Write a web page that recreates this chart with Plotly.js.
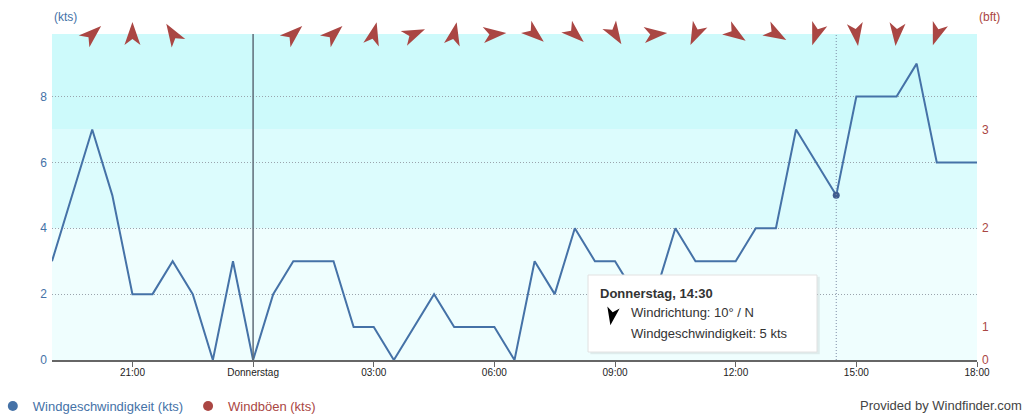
<!DOCTYPE html>
<html>
<head>
<meta charset="utf-8">
<script src="https://cdn.plot.ly/plotly-3.0.1.min.js"></script>
<style>
html,body{margin:0;padding:0;background:#ffffff;}
#chart{width:1035px;height:416px;}
</style>
</head>
<body>
<div id="chart"></div>
<script>
// ---- data ----
const times = [
  '2024-05-15 19:00','2024-05-15 19:30','2024-05-15 20:00','2024-05-15 20:30',
  '2024-05-15 21:00','2024-05-15 21:30','2024-05-15 22:00','2024-05-15 22:30',
  '2024-05-15 23:00','2024-05-15 23:30','2024-05-16 00:00','2024-05-16 00:30',
  '2024-05-16 01:00','2024-05-16 01:30','2024-05-16 02:00','2024-05-16 02:30',
  '2024-05-16 03:00','2024-05-16 03:30','2024-05-16 04:00','2024-05-16 04:30',
  '2024-05-16 05:00','2024-05-16 05:30','2024-05-16 06:00','2024-05-16 06:30',
  '2024-05-16 07:00','2024-05-16 07:30','2024-05-16 08:00','2024-05-16 08:30',
  '2024-05-16 09:00','2024-05-16 09:30','2024-05-16 10:00','2024-05-16 10:30',
  '2024-05-16 11:00','2024-05-16 11:30','2024-05-16 12:00','2024-05-16 12:30',
  '2024-05-16 13:00','2024-05-16 13:30','2024-05-16 14:00','2024-05-16 14:30',
  '2024-05-16 15:00','2024-05-16 15:30','2024-05-16 16:00','2024-05-16 16:30',
  '2024-05-16 17:00','2024-05-16 17:30','2024-05-16 18:00'
];
const windSpeed = [
  3,5,7,5, 2,2,3,2, 0,3,0,2, 3,3,3,1, 1,0,1,2, 1,1,1,0,
  3,2,4,3, 3,2,2,4, 3,3,3,4, 4,7,6,5, 8,8,8,9, 6,6,6
];
const dirTimes = [
  '2024-05-15 20:00','2024-05-15 21:00','2024-05-15 22:00',
  '2024-05-16 01:00','2024-05-16 02:00','2024-05-16 03:00','2024-05-16 04:00',
  '2024-05-16 05:00','2024-05-16 06:00','2024-05-16 07:00','2024-05-16 08:00',
  '2024-05-16 09:00','2024-05-16 10:00','2024-05-16 11:00','2024-05-16 12:00',
  '2024-05-16 13:00','2024-05-16 14:00','2024-05-16 15:00','2024-05-16 16:00',
  '2024-05-16 17:00'
];
// wind coming FROM (degrees)
const windDirection = [
  228,180,148, 228,228,194,247, 192,265,310,312, 328,265,25,304, 300,19,352,5, 19
];
const tickTimes = [
  '2024-05-15 21:00','2024-05-16 00:00','2024-05-16 03:00','2024-05-16 06:00',
  '2024-05-16 09:00','2024-05-16 12:00','2024-05-16 15:00','2024-05-16 18:00'
];
const tickLabels = ['21:00','Donnerstag','03:00','06:00','09:00','12:00','15:00','18:00'];
const ktsTicks = [0,2,4,6,8];
const bftTickKts = [0,1,4,7];
const bftTickLabels = ['0','1','2','3'];
const bftBandEdges = [0,4,7,9.9];
const dayStart = '2024-05-16 00:00';
const hoverIndex = 39;
const hoverDirection = 10;
const hoverDirName = 'N';
const hoverDay = 'Donnerstag';
const hoverTime = '14:30';

// ---- styling ----
const FONT = 'Liberation Sans, Arial, sans-serif';
const BLUE = '#4572A7';
const RED = '#AA4643';
const bandColors = ['#effefe','#dcfcfd','#cdfafb'];

function arrowPath(bearing, s) {
  const r = bearing * Math.PI / 180;
  const c = Math.cos(r), sn = Math.sin(r);
  const tpl = [[0,12],[8,-11],[0,-5],[-8,-11]];
  const pts = tpl.map(p => {
    const x = p[0]*s, y = p[1]*s;
    return [(x*c + y*sn).toFixed(2), (-x*sn + y*c).toFixed(2)];
  });
  return 'M' + pts.map(p => p[0] + ',' + p[1]).join(' L') + ' Z';
}

const shapes = [];
for (let i = 0; i < bandColors.length; i++) {
  shapes.push({type:'rect', xref:'paper', yref:'y', x0:0, x1:1,
    y0:bftBandEdges[i], y1:bftBandEdges[i+1], fillcolor:bandColors[i],
    line:{width:0}, layer:'below'});
}
shapes.push({type:'line', xref:'x', yref:'paper', x0:dayStart, x1:dayStart, y0:0, y1:1,
  line:{color:'#5f6c78', width:1.5}, layer:'above'});
shapes.push({type:'line', xref:'x', yref:'paper', x0:times[hoverIndex], x1:times[hoverIndex], y0:0, y1:1,
  line:{color:'#7d8ca6', width:1, dash:'1px,2px'}, layer:'above'});
for (let i = 0; i < dirTimes.length; i++) {
  shapes.push({type:'path', xref:'x', yref:'paper', xsizemode:'pixel', ysizemode:'pixel',
    xanchor:dirTimes[i], yanchor:1, path:arrowPath((windDirection[i]+180)%360, 1),
    fillcolor:RED, line:{width:0}, layer:'above'});
}
// tooltip box
shapes.push({type:'rect', xref:'paper', yref:'paper', x0:0.582, x1:0.830, y0:0.018, y1:0.255,
  fillcolor:'rgba(0,0,0,0.07)', line:{width:0}, layer:'above'});
shapes.push({type:'rect', xref:'paper', yref:'paper', x0:0.5795, x1:0.827, y0:0.0245, y1:0.2607,
  fillcolor:'#ffffff', line:{color:'#e2e2e2', width:1}, layer:'above'});
shapes.push({type:'path', xref:'paper', yref:'paper', xsizemode:'pixel', ysizemode:'pixel',
  xanchor:0.6054, yanchor:0.135, path:arrowPath((hoverDirection+180)%360, 0.78),
  fillcolor:'#000000', line:{width:0}, layer:'above'});

const annotations = [
  {xref:'paper', yref:'paper', x:0, y:1.052, xanchor:'left', yanchor:'middle', showarrow:false,
   text:'(kts)', font:{family:FONT, size:12, color:BLUE}},
  {xref:'paper', yref:'paper', x:1, y:1.052, xanchor:'left', yanchor:'middle', showarrow:false,
   text:'(bft)', font:{family:FONT, size:12, color:RED}},
  {xref:'paper', yref:'paper', x:1.0508, y:-0.141, xanchor:'right', yanchor:'middle', showarrow:false,
   text:'Provided by Windfinder.com', font:{family:FONT, size:13, color:'#444444'}},
  {xref:'paper', yref:'paper', x:0.590, y:0.2055, xanchor:'left', yanchor:'middle', showarrow:false,
   text:'<b>' + hoverDay + ', ' + hoverTime + '</b>', font:{family:FONT, size:13, color:'#333333'}},
  {xref:'paper', yref:'paper', x:0.6235, y:0.1442, xanchor:'left', yanchor:'middle', showarrow:false,
   text:'Windrichtung: ' + hoverDirection + '° / ' + hoverDirName, font:{family:FONT, size:13, color:'#333333'}},
  {xref:'paper', yref:'paper', x:0.6235, y:0.0798, xanchor:'left', yanchor:'middle', showarrow:false,
   text:'Windgeschwindigkeit: ' + windSpeed[hoverIndex] + ' kts', font:{family:FONT, size:13, color:'#333333'}}
];

const traces = [
  {x:times, y:windSpeed, type:'scatter', mode:'lines', line:{color:BLUE, width:2},
   showlegend:false, hoverinfo:'skip'},
  {x:[times[hoverIndex]], y:[windSpeed[hoverIndex]], type:'scatter', mode:'markers',
   marker:{color:'#3f5d8f', size:7}, showlegend:false, hoverinfo:'skip'},
  {x:[null], y:[null], type:'scatter', mode:'markers', marker:{color:BLUE, size:10},
   name:'<span style="color:' + BLUE + '">Windgeschwindigkeit (kts)</span>'},
  {x:[null], y:[null], type:'scatter', mode:'markers', marker:{color:RED, size:10}, yaxis:'y2',
   name:'<span style="color:' + RED + '">Windböen (kts)</span>'}
];

const layout = {
  width:1035, height:416,
  margin:{l:52, r:58, t:34, b:56, pad:0, autoexpand:false},
  paper_bgcolor:'#ffffff', plot_bgcolor:'#ffffff',
  font:{family:FONT, size:12, color:'#333333'},
  hovermode:false,
  xaxis:{type:'date', range:[times[0], times[times.length-1]], automargin:false,
    tickvals:tickTimes, ticktext:tickLabels, tickfont:{family:FONT, size:10, color:'#222222'},
    showgrid:false, zeroline:false, showline:true, linecolor:'#666666', linewidth:1.5,
    ticks:'outside', ticklen:5, tickcolor:'#666666', tickwidth:1, ticklabelstandoff:-3},
  yaxis:{range:[0,9.9], tickvals:ktsTicks, showgrid:true, gridcolor:'#9aa4ad', griddash:'1px,2px',
    gridwidth:1, zeroline:false, showline:false, ticks:'', ticklabelstandoff:4, automargin:false,
    tickfont:{family:FONT, size:12, color:BLUE}},
  yaxis2:{overlaying:'y', side:'right', range:[0,9.9], tickvals:bftTickKts, ticktext:bftTickLabels,
    showgrid:false, zeroline:false, showline:false, ticks:'', ticklabelstandoff:4, automargin:false,
    tickfont:{family:FONT, size:12, color:RED}},
  legend:{orientation:'h', x:-0.064, xanchor:'left', y:-0.141, yanchor:'middle',
    font:{family:FONT, size:13}, itemwidth:30, bgcolor:'rgba(0,0,0,0)'},
  shapes:shapes,
  annotations:annotations
};

Plotly.newPlot('chart', traces, layout, {displayModeBar:false, staticPlot:true});
</script>
</body>
</html>
